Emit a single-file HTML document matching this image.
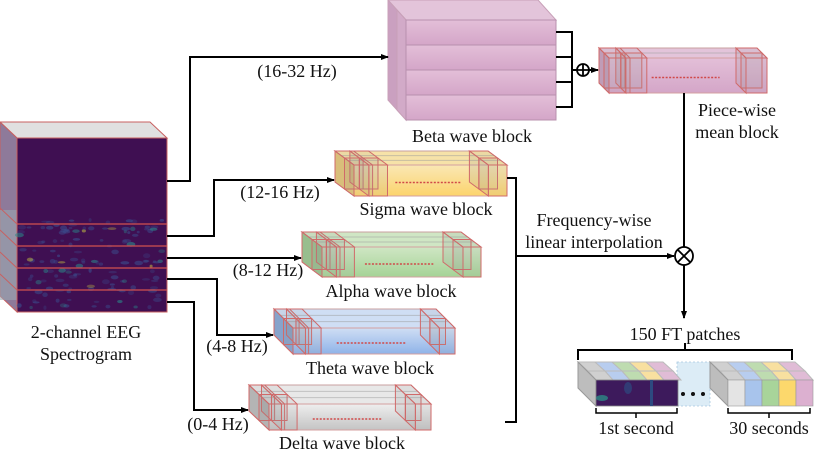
<!DOCTYPE html>
<html><head><meta charset="utf-8"><style>
html,body{margin:0;padding:0;background:#fff;}
svg{display:block;}
svg text{font-family:"Liberation Serif","Times New Roman","DejaVu Serif","Noto Serif CJK SC",serif;}
</style></head><body>
<svg id="s" width="814" height="455" viewBox="0 0 814 455" xmlns="http://www.w3.org/2000/svg">
<defs>
<marker id="ar" markerWidth="8" markerHeight="8" refX="7" refY="4" orient="auto" markerUnits="userSpaceOnUse"><path d="M0,1 L8,4 L0,7 Z" fill="#000"/></marker>
<linearGradient id="gy" x1="0" y1="0" x2="0" y2="1"><stop offset="0" stop-color="#f9e7b4"/><stop offset="1" stop-color="#fcd46c"/></linearGradient>
<linearGradient id="gg" x1="0" y1="0" x2="0" y2="1"><stop offset="0" stop-color="#cfe6c4"/><stop offset="1" stop-color="#a5d396"/></linearGradient>
<linearGradient id="gb" x1="0" y1="0" x2="0" y2="1"><stop offset="0" stop-color="#cfdef4"/><stop offset="1" stop-color="#8fb3e8"/></linearGradient>
<linearGradient id="gd" x1="0" y1="0" x2="0" y2="1"><stop offset="0" stop-color="#eeeeee"/><stop offset="1" stop-color="#c4c4c4"/></linearGradient>
<linearGradient id="gp" x1="0" y1="0" x2="0" y2="1"><stop offset="0" stop-color="#e3bfd8"/><stop offset="1" stop-color="#d4a6c8"/></linearGradient>
</defs>
<g id="shapes"></g>
<g fill="none" stroke="#000" stroke-width="2">
<polyline points="167,181 190,181 190,57 388,57" marker-end="url(#ar)"/>
<polyline points="167,236 214,236 214,180 334,180" marker-end="url(#ar)"/>
<polyline points="167,258 301,258" marker-end="url(#ar)"/>
<polyline points="167,279 217,279 217,335 273,335" marker-end="url(#ar)"/>
<polyline points="167,302 194,302 194,410 248,410" marker-end="url(#ar)"/>
<polyline points="556,32 572,32 572,107 556,107"/>
<line x1="556" y1="57" x2="572" y2="57"/><line x1="556" y1="82" x2="572" y2="82"/>
<line x1="572" y1="70" x2="577" y2="70"/>
<line x1="589" y1="70" x2="598" y2="70" marker-end="url(#ar)"/>
<polyline points="507,178 516,178 516,422 505,422"/>
<line x1="516" y1="256" x2="674" y2="256" marker-end="url(#ar)"/>
<line x1="684" y1="93" x2="684" y2="247"/>
<line x1="684" y1="265" x2="684" y2="318" marker-end="url(#ar)"/>
<path d="M578,360 V350 H792 V360 M685,350 V343"/>
<path d="M596,408 V413 H677 V408 M636,413 V418" stroke-width="1.5"/>
<path d="M728,408 V413 H810 V408 M769,413 V418" stroke-width="1.5"/>
</g>
<g fill="#fff" stroke="#000" stroke-width="1.8">
<circle cx="583" cy="70" r="6"/><path d="M577,70 H589 M583,64 V76"/>
<circle cx="684" cy="256" r="9"/><path d="M677.6,249.6 L690.4,262.4 M690.4,249.6 L677.6,262.4"/>
</g>
<g fill="#111"><circle cx="683" cy="394" r="2"/><circle cx="693" cy="394" r="2"/><circle cx="703" cy="394" r="2"/></g>
<g style="font-family:'Liberation Serif','DejaVu Serif',serif;font-size:18px" fill="#111" text-anchor="middle">
<text x="297" y="77">(16-32 Hz)</text>
<text x="280" y="198">(12-16 Hz)</text>
<text x="268" y="276">(8-12 Hz)</text>
<text x="237" y="352">(4-8 Hz)</text>
<text x="218" y="430">(0-4 Hz)</text>
<text x="472" y="142">Beta wave block</text>
<text x="426" y="215">Sigma wave block</text>
<text x="391" y="297">Alpha wave block</text>
<text x="370" y="374">Theta wave block</text>
<text x="342" y="449">Delta wave block</text>
<text x="86" y="338">2-channel EEG</text>
<text x="86" y="360">Spectrogram</text>
<text x="594" y="226">Frequency-wise</text>
<text x="594" y="248">linear interpolation</text>
<text x="737" y="116">Piece-wise</text>
<text x="737" y="138">mean block</text>
<text x="685" y="340">150 FT patches</text>
<text x="636" y="434">1st second</text>
<text x="769" y="434">30 seconds</text>
</g>
</svg>
<script>
var NS="http://www.w3.org/2000/svg",G=document.getElementById("shapes");
function el(t,a){var e=document.createElementNS(NS,t);for(var k in a)e.setAttribute(k,a[k]);G.appendChild(e);return e;}
function poly(p,f,s,o){return el("polygon",{points:p.map(function(q){return q.join(",")}).join(" "),fill:f,stroke:s||"none","stroke-width":1,"fill-opacity":o==null?1:o});}
var R="#d06a6a";
function block(bx,by,x1,y1,dx,dy,fill,side,top,slabs){
 var fx=bx+dx,fy=by+dy;
 poly([[bx,by],[x1-dx,by],[x1,fy],[fx,fy]],top,"#c8a0a0");
 poly([[bx,by],[fx,fy],[fx,y1],[bx,y1-dy]],side,"#c8a0a0");
 el("rect",{x:fx,y:fy,width:x1-fx,height:y1-fy,fill:fill,stroke:"#d4a0a0","stroke-width":1});
 for(var i=1;i<slabs;i++){var yy=by+(fy-by)*i/slabs;el("line",{x1:bx+dx*i/slabs,y1:yy,x2:x1-dx+dx*i/slabs,y2:yy,stroke:"#999","stroke-opacity":0.5,"stroke-width":1});}
 var cw=(y1-fy)*0.6, ch=y1-fy;
 function cube(x,y){
  poly([[x,y],[x+cw,y],[x+cw+dx*0.5,y+dy*0.5],[x+dx*0.5,y+dy*0.5]],"#888",R,0.1);
  poly([[x,y],[x+dx*0.5,y+dy*0.5],[x+dx*0.5,y+dy*0.5+ch],[x,y+ch]],"#888",R,0.15);
  el("rect",{x:x+dx*0.5,y:y+dy*0.5,width:cw,height:ch,fill:"#999","fill-opacity":0.12,stroke:R,"stroke-width":1});
 }
 cube(bx,by);cube(bx+cw*0.8,by);
 cube(bx+dx*0.5,by+dy*0.5);cube(bx+dx*0.5+cw*0.8,by+dy*0.5);
 cube(x1-dx-cw*1.0,by);cube(x1-dx*0.5-cw*1.0,by+dy*0.5);
 var my=(fy+y1)/2+2;
 el("line",{x1:fx+(x1-fx)*0.27,y1:my,x2:fx+(x1-fx)*0.7,y2:my,stroke:"#d04848","stroke-width":1.5,"stroke-dasharray":"2,1.5"});
}
block(335,151,507,196,19,14,"url(#gy)","#e8c878","#f6e2a8",3);
block(302,232,481,277,20,15,"url(#gg)","#9cc890","#cfe6c4",3);
block(274,309,455,354,19,19,"url(#gb)","#88a8d8","#cfdef4",3);
block(249,385,431,430,20,19,"url(#gd)","#bcbcbc","#e8e8e8",3);
block(599,48,767,93,10,10,"url(#gp)","#caa0c0","#e3c4da",2);
poly([[388,0],[538,0],[556,20],[406,20]],"#e3c4da","#c8a0b8");
poly([[388,0],[406,20],[406,120],[388,100]],"#caa0c0","#c8a0b8");
poly([[397,10],[406,20],[406,120],[397,110]],"#d2aac8","#c8a0b8");
for(var i=0;i<4;i++){el("rect",{x:406,y:20+i*25,width:150,height:25,fill:"url(#gp)",stroke:"#b890ae","stroke-width":1});}
poly([[0,122],[150,122],[167,138],[17,138]],"#e0e0e0","#c86060");
poly([[0,122],[17,138],[17,312],[0,296]],"#8e7a9a","#c86060");
el("rect",{x:0,y:210,width:17,height:90,fill:"#9aa6b0","fill-opacity":0.6});
el("rect",{x:17,y:138,width:150,height:174,fill:"#3f0f52",stroke:"#c86060","stroke-width":1});
var seed=7;function rnd(){seed=(seed*9301+49297)%233280;return seed/233280;}
for(var i=0;i<140;i++){var y=220+rnd()*90,x=19+rnd()*146;
 var r=rnd();var c=r<0.8?"#3b4a8a":(r<0.95?"#2a8a8a":"#d0d040");
 el("ellipse",{cx:x,cy:y,rx:1.5+rnd()*3,ry:1+rnd()*1.5,fill:c,"fill-opacity":0.3+rnd()*0.35});}
[224,246,268,290].forEach(function(y){el("line",{x1:17,y1:y,x2:167,y2:y,stroke:"#d05050","stroke-width":1.2});});
[208,230,252,274].forEach(function(y){el("line",{x1:0,y1:y,x2:17,y2:y+16,stroke:"#c86060","stroke-width":1});});
el("rect",{x:677,y:362,width:33,height:44,fill:"#dcecf6",stroke:"#a8c8e0","stroke-width":0.8,"stroke-dasharray":"2,2"});
function patchGroup(x0,cols,img){
 for(var j=0;j<cols.length;j++){
  var x=x0+17*j;
  poly([[x,362],[x+17,362],[x+27,371],[x+10,371]],cols[j][1],"#bbb");
  poly([[x+10,371],[x+27,371],[x+35,380],[x+18,380]],cols[j][1],"#bbb");
 }
 poly([[x0,362],[x0+18,380],[x0+18,406],[x0,388]],"#bdbdbd","#999");
 if(img){el("rect",{x:x0+18,y:380,width:82,height:26,fill:"#3d1a5c",stroke:"#888","stroke-width":0.8});
  el("ellipse",{cx:x0+24,cy:398,rx:6,ry:3,fill:"#2a9a8a","fill-opacity":0.7});el("ellipse",{cx:x0+50,cy:388,rx:4,ry:6,fill:"#2d4a80","fill-opacity":0.7});
  el("rect",{x:x0+72,y:380,width:3,height:26,fill:"#2d4a80"});}
 else{for(var j=0;j<cols.length;j++){el("rect",{x:x0+18+17*j,y:380,width:17,height:26,fill:cols[j][0],stroke:"#999","stroke-width":0.6});}}
}
var C=[["#e4e4e4","#d0d0d0"],["#a8c4ec","#b8cdef"],["#a8d49a","#bedcb0"],["#fcd86c","#f8e0a0"],["#dcb0d0","#e0bcd6"]];
patchGroup(578,C,true);
patchGroup(710,C,false);
</script>
</body></html>
